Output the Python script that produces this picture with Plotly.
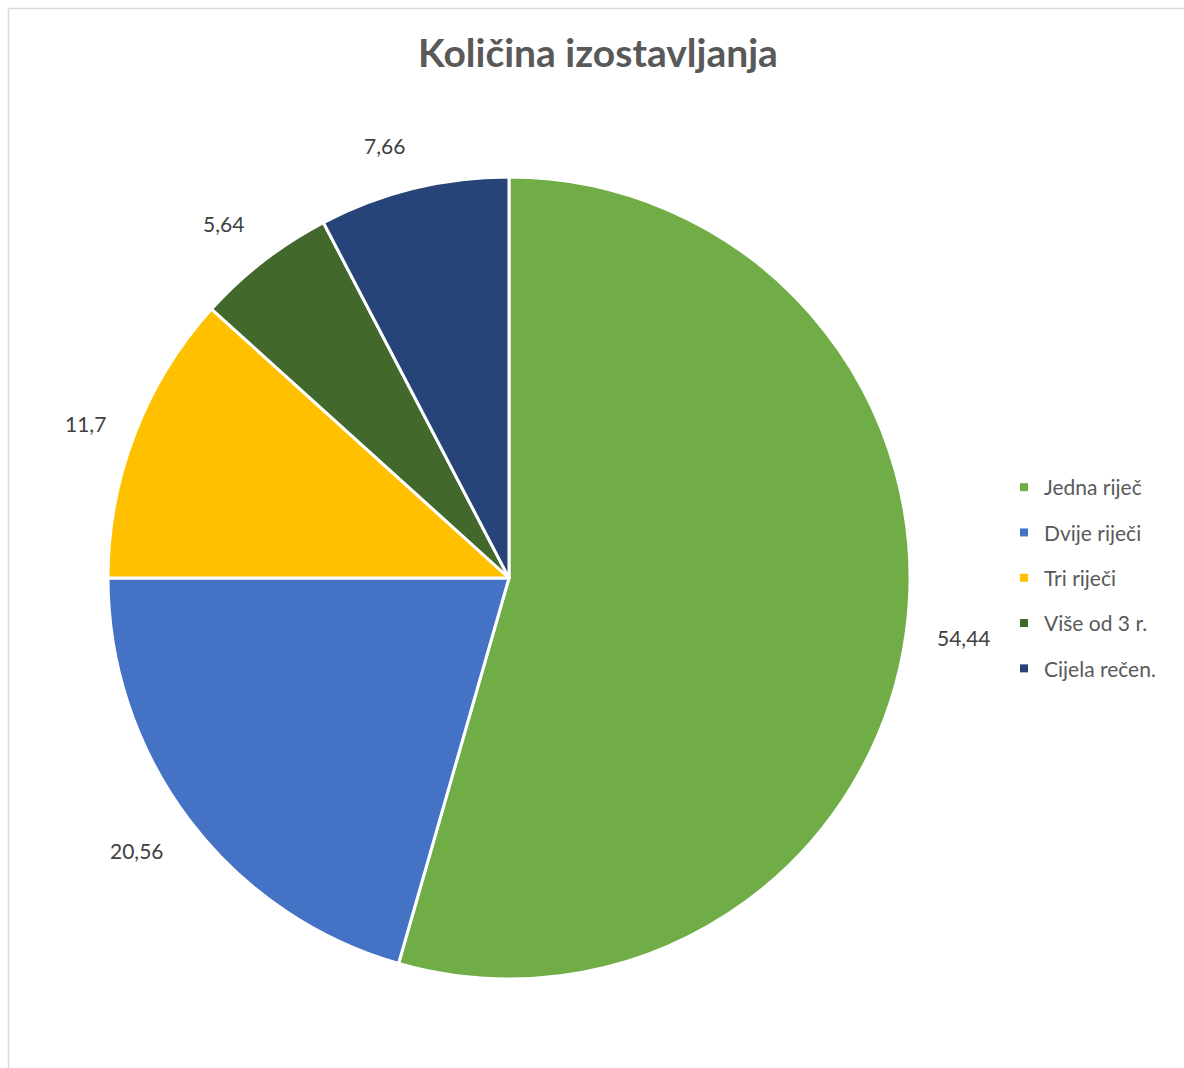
import math
import plotly.graph_objects as go

categories = ["Jedna riječ", "Dvije riječi", "Tri riječi", "Više od 3 r.", "Cijela rečen."]
values = [54.44, 20.56, 11.7, 5.64, 7.66]
colors = ["#70AD47", "#4472C4", "#FFC000", "#43682B", "#264478"]

W, H = 1184, 1068
cx, cy, R = 509, 578, 401
FONT = "Lato"

fig = go.Figure()
fig.add_trace(go.Pie(
    labels=categories, values=values, sort=False, direction="clockwise", rotation=0,
    marker=dict(colors=colors, line=dict(color="white", width=3)),
    textinfo="none", hoverinfo="label+value", showlegend=False,
    domain=dict(x=[(cx - R) / W, (cx + R) / W], y=[1 - (cy + R) / H, 1 - (cy - R) / H]),
))

# legend via invisible-axis scatter traces
for i, (c, col) in enumerate(zip(categories, colors)):
    fig.add_trace(go.Scatter(
        x=[None], y=[None], mode="markers", name=c, legendgroup=f"g{i}",
        marker=dict(symbol="square", size=8, color=col),
    ))

# data labels outside slices (nearest corner of label placed along slice mid-angle)
total = sum(values)
cum = 0.0
annotations = []
for v in values:
    mid = (cum + v / 2) / total * 2 * math.pi
    cum += v
    s, c = math.sin(mid), math.cos(mid)
    rl = R * 1.075
    x = cx + rl * s
    y = cy - rl * c
    xa = "left" if s > 0 else "right"
    if abs(c) < 0.4:
        ya = "middle"
    else:
        ya = "bottom" if c > 0 else "top"
    annotations.append(dict(
        x=x / W, y=1 - y / H, xref="paper", yref="paper", showarrow=False,
        text=f"{v:g}".replace(".", ","), font=dict(family=FONT, size=21, color="#404040"),
        xanchor=xa, yanchor=ya, borderpad=0,
    ))

fig.update_layout(
    width=W, height=H, margin=dict(l=0, r=0, t=0, b=0),
    paper_bgcolor="white", plot_bgcolor="white",
    title=dict(text="<b>Količina izostavljanja</b>", x=598 / W, xanchor="center",
               y=1 - 53 / H, yanchor="middle", yref="container",
               font=dict(family=FONT, size=39, color="#595959")),
    xaxis=dict(visible=False), yaxis=dict(visible=False),
    legend=dict(x=1004 / W, xanchor="left", y=1 - 578 / H, yanchor="middle",
                font=dict(family=FONT, size=21, color="#595959"),
                tracegroupgap=15, itemwidth=30, bgcolor="rgba(0,0,0,0)"),
    annotations=annotations,
    shapes=[
        dict(type="line", xref="paper", yref="paper", x0=8.5 / W, x1=1, y0=1 - 8.5 / H, y1=1 - 8.5 / H,
             line=dict(color="#D9D9D9", width=1.5)),
        dict(type="line", xref="paper", yref="paper", x0=8.5 / W, x1=8.5 / W, y0=0, y1=1 - 8.5 / H,
             line=dict(color="#D9D9D9", width=1.5)),
    ],
)

fig.write_html("out.html")
